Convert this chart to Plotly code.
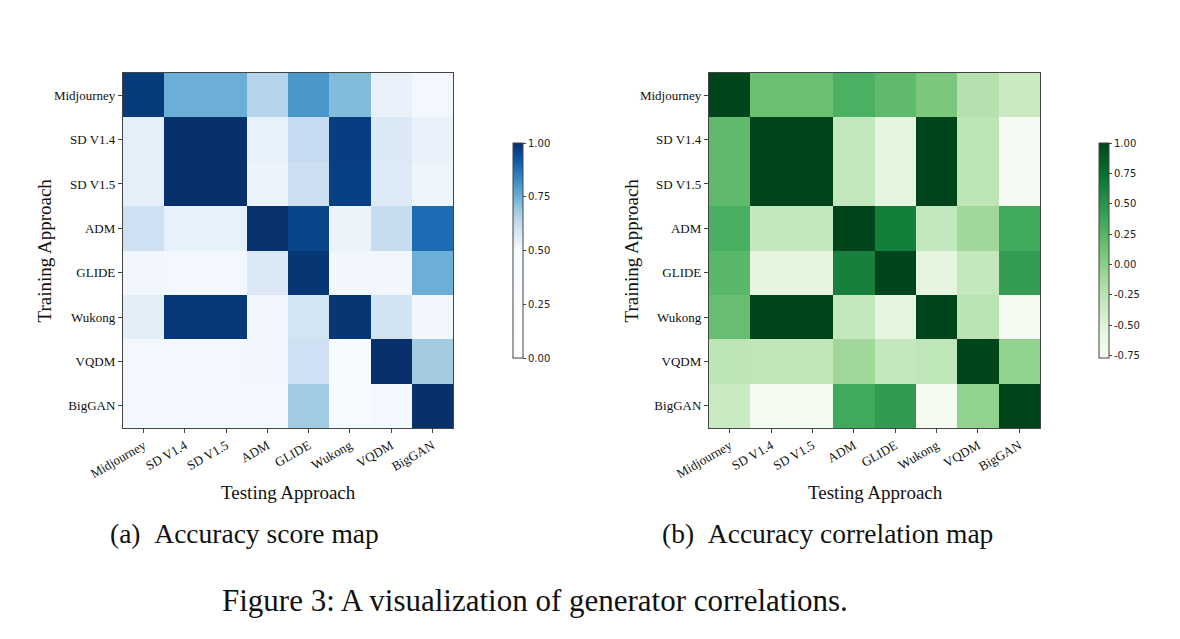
import plotly.graph_objects as go

generators = ["Midjourney", "SD V1.4", "SD V1.5", "ADM", "GLIDE", "Wukong", "VQDM", "BigGAN"]

# Accuracy score map (rows: training approach, cols: testing approach)
acc_midjourney = [0.98, 0.75, 0.75, 0.65, 0.80, 0.72, 0.535, 0.51]
acc_sd14 = [0.545, 1.0, 1.0, 0.54, 0.625, 0.975, 0.57, 0.535]
acc_sd15 = [0.545, 1.0, 1.0, 0.53, 0.61, 0.97, 0.565, 0.525]
acc_adm = [0.605, 0.54, 0.54, 0.995, 0.96, 0.53, 0.62, 0.885]
acc_glide = [0.515, 0.51, 0.51, 0.57, 0.99, 0.515, 0.515, 0.75]
acc_wukong = [0.55, 0.985, 0.985, 0.515, 0.59, 0.99, 0.595, 0.515]
acc_vqdm = [0.51, 0.51, 0.51, 0.515, 0.605, 0.505, 1.0, 0.68]
acc_biggan = [0.51, 0.51, 0.51, 0.51, 0.685, 0.505, 0.51, 1.0]

# Accuracy correlation map
cor_midjourney = [1.0, 0.15, 0.15, 0.29, 0.20, 0.08, -0.22, -0.35]
cor_sd14 = [0.20, 1.0, 1.0, -0.31, -0.55, 1.0, -0.27, -0.75]
cor_sd15 = [0.20, 1.0, 1.0, -0.31, -0.55, 1.0, -0.27, -0.75]
cor_adm = [0.30, -0.31, -0.31, 1.0, 0.65, -0.31, -0.10, 0.34]
cor_glide = [0.23, -0.55, -0.55, 0.64, 1.0, -0.55, -0.31, 0.43]
cor_wukong = [0.17, 1.0, 1.0, -0.31, -0.55, 1.0, -0.25, -0.72]
cor_vqdm = [-0.27, -0.29, -0.29, -0.10, -0.31, -0.28, 1.0, -0.03]
cor_biggan = [-0.35, -0.73, -0.73, 0.35, 0.45, -0.73, -0.03, 1.0]

acc = [acc_midjourney, acc_sd14, acc_sd15, acc_adm, acc_glide, acc_wukong, acc_vqdm, acc_biggan]
cor = [cor_midjourney, cor_sd14, cor_sd15, cor_adm, cor_glide, cor_wukong, cor_vqdm, cor_biggan]

acc_ticks = [0.0, 0.25, 0.5, 0.75, 1.0]
acc_ticktext = ["0.00", "0.25", "0.50", "0.75", "1.00"]
cor_ticks = [-0.75, -0.5, -0.25, 0.0, 0.25, 0.5, 0.75, 1.0]
cor_ticktext = ["-0.75", "-0.50", "-0.25", "0.00", "0.25", "0.50", "0.75", "1.00"]

blues = ["#f7fbff", "#deebf7", "#c6dbef", "#9ecae1", "#6baed6", "#4292c6", "#2171b5", "#08519c", "#08306b"]
greens = ["#f7fcf5", "#e5f5e0", "#c7e9c0", "#a1d99b", "#74c476", "#41ab5d", "#238b45", "#006d2c", "#00441b"]

blue_scale = [[0.0, "#ffffff"]] + [[0.5 + 0.5 * i / 8, c] for i, c in enumerate(blues)]
green_scale = [[i / 8, c] for i, c in enumerate(greens)]

OFF = 8  # page body margin in the browser
W, H = 1180 - OFF, 639 - OFF
serif = "Liberation Serif"
sans = "DejaVu Sans"


def px_x(v):
    return (v - OFF) / W


def px_y(v):
    return 1 - (v - OFF) / H


fig = go.Figure()

fig.add_trace(go.Heatmap(
    z=acc, x=generators, y=generators, colorscale=blue_scale, zmin=0, zmax=1,
    xaxis="x", yaxis="y",
    colorbar=dict(
        x=px_x(513), xanchor="left", xpad=0, y=px_y(250.5), yanchor="middle",
        len=215, lenmode="pixels", thickness=10, thicknessmode="pixels",
        outlinewidth=1, outlinecolor="#444", ypad=0,
        tickvals=acc_ticks, ticktext=acc_ticktext, ticks="outside", ticklen=3,
        tickcolor="#444", tickfont=dict(family=sans, size=10, color="#222"),
    ),
))

fig.add_trace(go.Heatmap(
    z=cor, x=generators, y=generators, colorscale=green_scale, zmin=-0.77, zmax=1.0,
    xaxis="x2", yaxis="y2",
    colorbar=dict(
        x=px_x(1099), xanchor="left", xpad=0, y=px_y(250.5), yanchor="middle",
        len=215, lenmode="pixels", thickness=10, thicknessmode="pixels",
        outlinewidth=1, outlinecolor="#444", ypad=0,
        tickvals=cor_ticks, ticktext=cor_ticktext, ticks="outside", ticklen=3,
        tickcolor="#444", tickfont=dict(family=sans, size=10, color="#222"),
    ),
))

axis_common = dict(
    showline=True, mirror=True, linecolor="#444", linewidth=1.2,
    ticks="outside", ticklen=4, tickcolor="#444", tickwidth=1,
    tickfont=dict(family=serif, size=13, color="#111"),
    showgrid=False, zeroline=False, automargin=False,
)

title_font = dict(family=serif, size=19, color="#111")
cap_font = dict(family=serif, size=27.5, color="#111")
fig_font = dict(family=serif, size=31, color="#111")


def ann(text, x, y, font, angle=0):
    return dict(text=text, x=px_x(x), y=px_y(y), xref="paper", yref="paper",
                showarrow=False, xanchor="center", yanchor="middle",
                textangle=angle, font=font)


fig.update_layout(
    width=W, height=H,
    margin=dict(l=0, r=0, t=0, b=0, autoexpand=False),
    paper_bgcolor="white", plot_bgcolor="white",
    xaxis=dict(domain=[px_x(123), px_x(453)], anchor="y", tickangle=-30, **axis_common),
    yaxis=dict(domain=[px_y(428), px_y(73)], anchor="x", autorange="reversed", **axis_common),
    xaxis2=dict(domain=[px_x(709), px_x(1040)], anchor="y2", tickangle=-30, **axis_common),
    yaxis2=dict(domain=[px_y(428), px_y(73)], anchor="x2", autorange="reversed", **axis_common),
    annotations=[
        ann("Testing Approach", 288, 492, title_font),
        ann("Training Approach", 44, 250.5, title_font, -90),
        ann("Testing Approach", 875, 492, title_font),
        ann("Training Approach", 631, 250.5, title_font, -90),
        ann("(a)\u00a0\u00a0Accuracy score map", 244, 533, cap_font),
        ann("(b)\u00a0\u00a0Accuracy correlation map", 827, 533, cap_font),
        ann("Figure 3: A visualization of generator correlations.", 535, 600, fig_font),
    ],
)

fig.write_html("out.html")
